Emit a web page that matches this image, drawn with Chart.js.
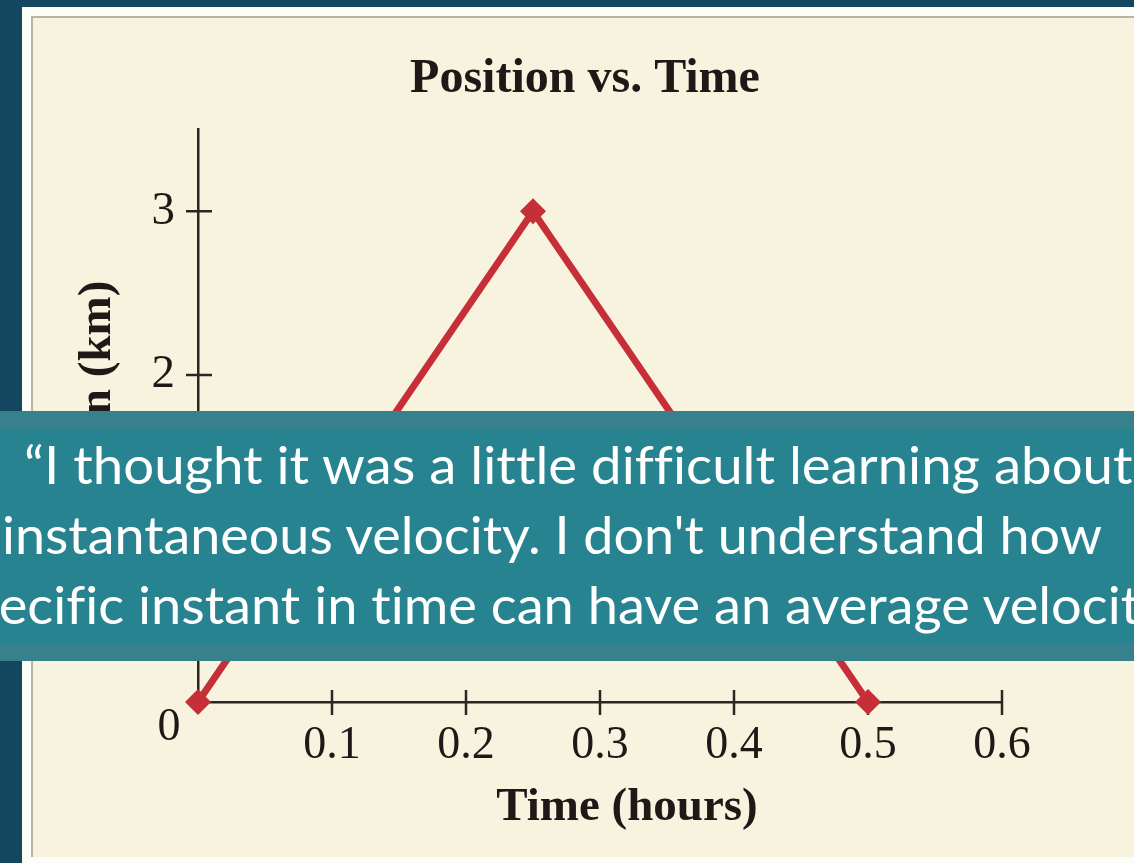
<!DOCTYPE html>
<html>
<head>
<meta charset="utf-8">
<script src="https://cdn.jsdelivr.net/npm/chart.js@4.4.0/dist/chart.umd.min.js"></script>
<style>
html, body { margin: 0; padding: 0; width: 1134px; height: 863px; overflow: hidden; background: #12475f; }
#frame { position: absolute; left: 22px; top: 7px; width: 1112px; height: 856px; background: #fdfcf7; }
#panel { position: absolute; left: 31px; top: 16px; width: 1103px; height: 841px; background: #f8f3df;
  border-left: 2px solid #b9b2a5; border-top: 2px solid #b9b2a5; box-sizing: border-box; }
#wrap { position: absolute; left: 0; top: 0; width: 1134px; height: 863px; }
#quote { position: absolute; left: 0; top: 411px; width: 1134px; height: 250px; overflow: hidden; z-index: 2;
  background: linear-gradient(#36818c 0, #36818c 18px, #27838f 18px, #27838f 232px, #36818c 232px);
  color: #fff; font-family: Lato, sans-serif; font-size: 53px; line-height: 1;
  font-variant-ligatures: none; font-feature-settings: "liga" 0, "clig" 0; }
.ln { position: absolute; white-space: nowrap; transform-origin: 0 0; }
#probe { position: absolute; left: 0; top: 0; visibility: hidden; white-space: nowrap; }
</style>
</head>
<body>
<div id="frame"></div>
<div id="panel"></div>
<div id="wrap"><canvas id="posChart" width="1134" height="863"></canvas></div>
<div id="quote">
  <div class="ln" id="l1">“I thought it was a little difficult learning about</div>
  <div class="ln" id="l2">instantaneous velocity. I don't understand how</div>
  <div class="ln" id="l3">a specific instant in time can have an average velocity.”</div>
  <span id="probe"></span>
</div>
<script>
// chart values
var times = [0, 0.25, 0.5];
var positions = [0, 3, 0];
var xTickValues = [0.1, 0.2, 0.3, 0.4, 0.5, 0.6];
var yTickValues = [1, 2, 3];

var ink = '#1c1916';
var red = '#c62f37';
var serif = 'Liberation Serif';

// tick marks that cross the axes, the shared "0" at the origin, and the x title
var crossTicks = {
	id: 'crossTicks',
	beforeDatasetsDraw: function(chart) {
		var ctx = chart.ctx;
		var x = chart.scales.x, y = chart.scales.y;
		ctx.save();
		ctx.strokeStyle = '#2a2622';
		ctx.lineWidth = 2.5;
		ctx.beginPath();
		x.ticks.forEach(function(t, i) {
			if (xTickValues.indexOf(+t.value.toFixed(2)) < 0) return;
			var px = x.getPixelForTick(i);
			ctx.moveTo(px, y.bottom - 12);
			ctx.lineTo(px, y.bottom + 13);
		});
		y.ticks.forEach(function(t, i) {
			if (yTickValues.indexOf(t.value) < 0) return;
			var py = y.getPixelForTick(i);
			ctx.moveTo(x.left - 12, py);
			ctx.lineTo(x.left + 14, py);
		});
		ctx.stroke();
		ctx.fillStyle = ink;
		ctx.font = '46px "' + serif + '"';
		ctx.textAlign = 'center';
		ctx.textBaseline = 'middle';
		ctx.fillText('0', x.left - 29, y.bottom + 26);
		ctx.font = 'bold 47px "' + serif + '"';
		ctx.fillText('Time (hours)', (x.left + x.right) / 2 + 27, y.bottom + 106);
		ctx.restore();
	}
};

var points = times.map(function(t, i) { return { x: t, y: positions[i] }; });

new Chart(document.getElementById('posChart').getContext('2d'), {
	type: 'line',
	data: {
		datasets: [{
			data: points,
			borderColor: red,
			backgroundColor: red,
			borderWidth: 7,
			tension: 0,
			pointStyle: 'rectRot',
			pointRadius: 13,
			pointBorderWidth: 0,
			pointBackgroundColor: red,
			clip: false
		}]
	},
	options: {
		responsive: false,
		animation: false,
		layout: { padding: { left: 36, right: 0, top: 0, bottom: 0 } },
		plugins: {
			legend: { display: false },
			tooltip: { enabled: false },
			title: {
				display: true,
				text: 'Position vs. Time',
				color: ink,
				font: { family: serif, size: 48, weight: 'bold' },
				padding: { top: 51, bottom: 21 }
			}
		},
		scales: {
			x: {
				type: 'linear',
				position: 'bottom',
				min: 0,
				max: 0.6,
				grid: { display: false },
				border: { display: true, color: '#2a2622', width: 2.5 },
				ticks: {
					stepSize: 0.1,
					padding: 8,
					color: ink,
					font: { family: serif, size: 46 },
					callback: function(v) {
						var r = +v.toFixed(2);
						return xTickValues.indexOf(r) >= 0 ? String(r) : '';
					}
				},
				afterFit: function(s) { s.height = 161; }
			},
			y: {
				type: 'linear',
				position: 'left',
				min: 0,
				max: 3.5,
				grid: { display: false },
				border: { display: true, color: '#2a2622', width: 2.5 },
				ticks: {
					stepSize: 1,
					includeBounds: false,
					padding: 15,
					color: ink,
					font: { family: serif, size: 47 },
					callback: function(v) { return yTickValues.indexOf(v) >= 0 ? String(v) : ''; }
				},
				title: {
					display: true,
					text: 'Position (km)',
					color: ink,
					font: { family: serif, size: 47, weight: 'bold' },
					padding: { top: 34, bottom: 0 }
				},
				afterFit: function(s) { s.width = 162; }
			},
			// empty right box so the title centres like the original
			yPad: {
				type: 'linear',
				position: 'right',
				grid: { display: false },
				border: { display: false },
				ticks: { display: false },
				afterFit: function(s) { s.width = 132; }
			}
		}
	},
	plugins: [crossTicks]
});

// fit the quote lines (narrow slide font) to the original widths
(function() {
	var probe = document.getElementById('probe');
	var w = function(s) { probe.textContent = s; return probe.getBoundingClientRect().width; };
	var place = function(id, visible, target, left, top, lead) {
		var sx = target / w(visible);
		var el = document.getElementById(id);
		var shift = lead ? w(lead) * sx : 0;
		el.style.left = (left - shift) + 'px';
		el.style.top = top + 'px';
		el.style.transform = 'scaleX(' + sx + ')';
	};
	place('l1', '“I thought it was a little difficult learning abou', 1089, 24, 26);
	place('l2', "instantaneous velocity. I don't understand how", 1100, 2, 96);
	place('l3', 'ecific instant in time can have an average veloc', 1109, -1, 166, 'a sp');
})();
</script>
</body>
</html>
